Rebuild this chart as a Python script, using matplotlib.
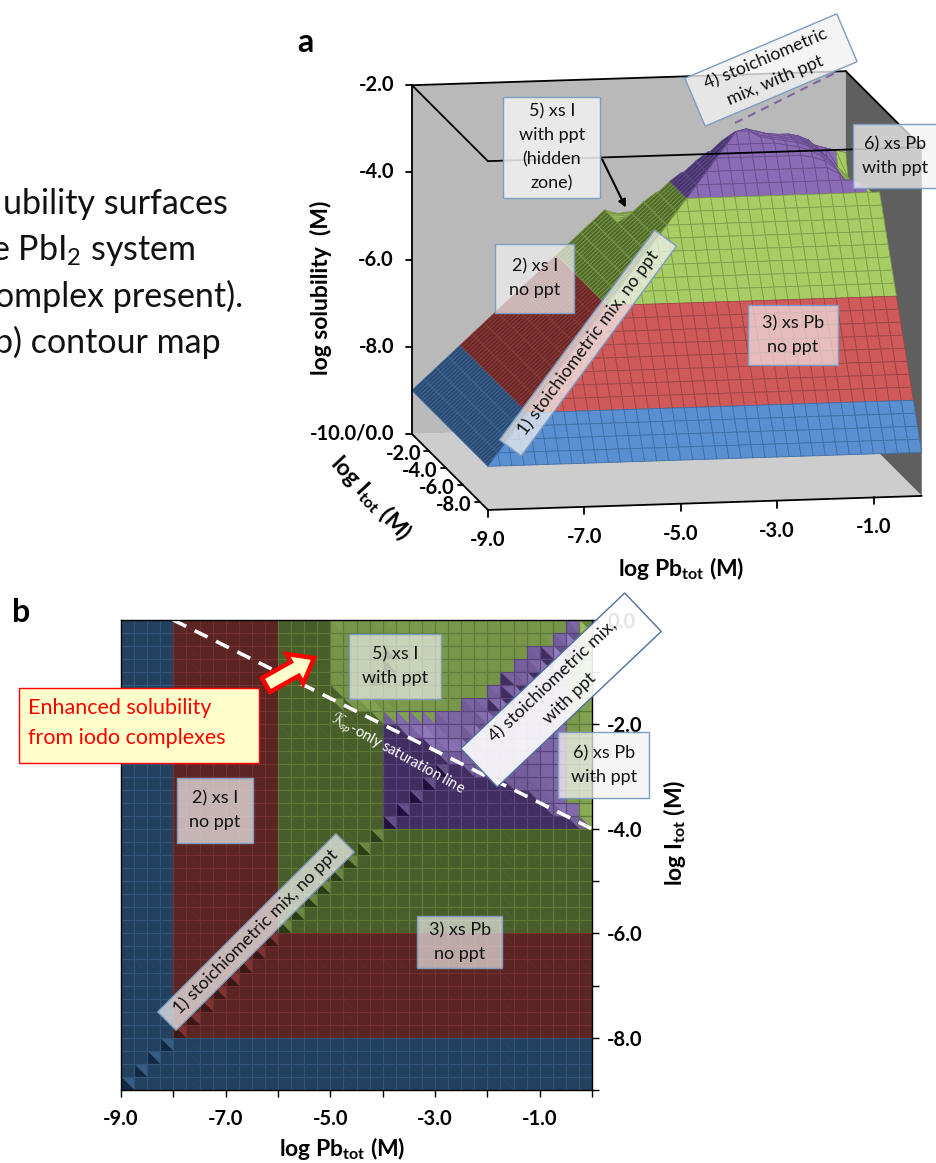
import math
import numpy as np
import matplotlib
matplotlib.use('Agg')
import matplotlib.pyplot as plt
from matplotlib.collections import PolyCollection
from matplotlib.patches import Polygon, FancyArrow
from matplotlib.colors import to_rgb

plt.rcParams['font.family'] = ['Lato', 'DejaVu Sans']
plt.rcParams['mathtext.fontset'] = 'custom'
plt.rcParams['mathtext.rm'] = 'Lato'
plt.rcParams['mathtext.it'] = 'Lato:italic'
plt.rcParams['mathtext.bf'] = 'Lato:bold'

# ---------- data: -100*log solubility ----------
L = [900, 875, 850, 825, 800, 775, 750, 725, 700, 675, 650, 625, 600, 575, 550, 525, 500]
ROWS_TOP = [
    L + [510, 507, 505, 503, 500, 500, 500, 498, 495, 488, 480, 473, 463, 450, 438, 428, 420, 408, 403, 387],
    L + [505, 503, 501, 495, 488, 488, 488, 485, 482, 475, 468, 460, 450, 438, 425, 415, 408, 395, 376, 440],
    L + [502, 501, 500, 490, 475, 475, 475, 472, 470, 462, 455, 448, 438, 425, 412, 402, 390, 365, 410, 440],
    L + [500, 499, 495, 485, 462, 462, 462, 460, 458, 450, 442, 435, 425, 412, 398, 385, 353, 400, 410, 440],
    L + [499, 495, 490, 475, 450, 450, 450, 448, 445, 438, 430, 422, 412, 400, 375, 342, 355, 400, 410, 440],
    L + [495, 490, 490, 460, 438, 438, 438, 435, 432, 425, 418, 410, 400, 370, 331, 330, 355, 400, 410, 440],
    L + [485, 470, 470, 440, 425, 425, 425, 422, 420, 412, 405, 395, 370, 320, 315, 330, 355, 400, 410, 440],
    L + [475, 450, 430, 420, 412, 412, 412, 410, 408, 400, 380, 360, 308, 305, 315, 330, 355, 400, 410, 440],
    L + [475, 450, 425, 400, 380, 385, 385, 390, 375, 366, 345, 297, 300, 305, 315, 330, 355, 400, 410, 440],
    L + [475, 450, 425, 400, 375, 350, 330, 345, 340, 330, 286, 295, 300, 305, 315, 330, 355, 400, 410, 440],
    L + [475, 450, 425, 400, 375, 350, 325, 300, 282, 275, 290, 295, 300, 305, 315, 330, 355, 400, 410, 440],
    L + [475, 450, 425, 400, 375, 350, 325, 300, 275, 275, 290, 295, 300, 305, 315, 330, 355, 400, 410, 440],
    L + [475, 450, 425, 400, 375, 350, 325, 300, 300, 300, 300, 300, 305, 310, 320, 335, 358, 400, 410, 440],
    L + [475, 450, 425, 400, 375, 350, 325, 325, 325, 325, 325, 325, 325, 325, 330, 340, 360, 400, 410, 440],
    L + [475, 450, 425, 400, 375, 350, 350, 350, 350, 350, 350, 350, 350, 350, 350, 350, 365, 395, 410, 440],
    L + [475, 450, 425, 400, 375, 375, 375, 375, 375, 375, 375, 375, 375, 375, 375, 375, 375, 375, 390, 420],
    L + [475, 450, 425, 400] + [400] * 16,
    L + [475, 450] + [425] * 18,
    L + [475] + [450] * 19,
    L + [475] * 20,
    L + [500] * 20,
]
PLATEAU = [525, 550, 575, 600, 625, 650, 675, 700, 725, 750, 775, 800, 825, 850, 875, 900]
Z_TABLE = np.array(ROWS_TOP + [L[:16 - n] + [v] * (21 + n) for n, v in enumerate(PLATEAU)], float)
Z = -Z_TABLE / 100.0
PB_GRID = np.linspace(-9, 0, 37)
I_GRID = np.linspace(0, -9, 37)

SOL_TICKS = [-2.0, -4.0, -6.0, -8.0, -10.0]
DEPTH_TICKS = [-2.0, -4.0, -6.0, -8.0]
PB_TICKS_A = [-9.0, -7.0, -5.0, -3.0, -1.0]
PB_TICKS_B = [-9.0, -7.0, -5.0, -3.0, -1.0]
I_TICKS_B = [0.0, -2.0, -4.0, -6.0, -8.0]
SAT_PB = [-8.0, 0.0]
SAT_I = [0.0, -4.0]

# ---------- colours ----------
A_BRIGHT = ['#5A8FD2', '#D0595A', '#A9CD65', '#8B6BB5']
A_DARK = ['#2A4A72', '#6B2826', '#4F6A28', '#46346B']
A_EDGE_B = ['#3F6FA8', '#9E4545', '#7E9E4A', '#6A5090']
A_EDGE_D = ['#3C6494', '#8A3A38', '#7A9648', '#5F4A8E']
B_DARK = ['#24405F', '#5A2523', '#485E2A', '#3F2E5F']
B_BRIGHT = ['#5B8FC8', '#C05050', '#A9CF6B', '#A98FD8']


def band(z):
    return 0 if z < -8 else 1 if z < -6 else 2 if z < -4 else 3


def lerp(c1, c2, t):
    a, b = np.array(to_rgb(c1)), np.array(to_rgb(c2))
    return tuple(np.clip(a + (b - a) * t, 0, 1))


W, H = 937, 1163
fig = plt.figure(figsize=(W / 100, H / 100), dpi=100, facecolor='white')

# ---------- panel b : real axes ----------
bx = fig.add_axes([121 / W, 1 - 1090 / H, 471 / W, 470 / H], zorder=1)
tris, cols = [], []
quads, qedges = [], []
n_i, n_p = Z.shape
for r in range(n_i - 1):
    for c in range(n_p - 1):
        zA, zB, zC, zD = Z[r, c], Z[r, c + 1], Z[r + 1, c], Z[r + 1, c + 1]
        pA = (PB_GRID[c], I_GRID[r]); pB = (PB_GRID[c + 1], I_GRID[r])
        pC = (PB_GRID[c], I_GRID[r + 1]); pD = (PB_GRID[c + 1], I_GRID[r + 1])
        on_diag = abs(PB_GRID[c] - I_GRID[r + 1]) < .3
        for pts, zs, gx, gy in (((pA, pB, pD), (zA, zB, zD), (zB - zA) / .25, (zB - zD) / .25),
                                ((pA, pC, pD), (zA, zC, zD), (zD - zC) / .25, (zA - zC) / .25)):
            g = gx + gy
            if abs(g) < 1e-6:
                t = -.3 if on_diag else .48
            elif .6 <= g <= 1.5:
                t = 0.0
            elif g > 1.5:
                t = .35
            else:
                t = .48 + min(.45, max(0, -g * .1))
            k = band(np.mean(zs))
            tris.append(pts)
            cols.append(lerp(B_DARK[k], B_BRIGHT[k], t))
        k = band(np.mean([zA, zB, zC, zD]))
        quads.append((pA, pB, pD, pC))
        qedges.append(lerp(B_DARK[k], B_BRIGHT[k], .25))
bx.add_collection(PolyCollection(tris, facecolors=cols, edgecolors=cols, linewidths=.5))
bx.add_collection(PolyCollection(quads, facecolors='none', edgecolors=qedges, linewidths=.8))
bx.plot(SAT_PB, SAT_I, color='white', lw=2.6, dashes=(4, 2.6), clip_on=False)
bx.set_xlim(-9, 0)
bx.set_ylim(-9, 0)
bx.yaxis.tick_right()
bx.set_xticks(np.arange(-9, 1, 1.0), minor=True)
bx.set_yticks(np.arange(-9, 1, 1.0), minor=True)
bx.set_xticks(PB_TICKS_B, [f'{v:.1f}' for v in PB_TICKS_B], fontweight='bold', fontsize=14.5)
bx.set_yticks(I_TICKS_B, [f'{v:.1f}' for v in I_TICKS_B], fontweight='bold', fontsize=14.5)
bx.tick_params(which='both', length=5, width=1, direction='out')
bx.tick_params(axis='x', which='both', pad=9)
bx.tick_params(axis='y', which='both', pad=6)
for s in bx.spines.values():
    s.set_linewidth(1)

# ---------- overlay in picture coordinates ----------
ov = fig.add_axes([0, 0, 1, 1], zorder=2)
ov.set_xlim(0, W)
ov.set_ylim(H, 0)
ov.axis('off')
ov.patch.set_alpha(0)


def project(pb, i, z):
    return (412 + (pb + 9) * 48.2 - i * 8.44,
            434 - (pb + 9) * 1.56 - i * 8.44 - (z + 10) * 43.6)


BLACK = dict(color='black', lw=1.3, solid_capstyle='round')
# walls and floor
ov.add_patch(Polygon([project(-9, 0, -2), project(0, 0, -2), project(0, 0, -10), project(-9, 0, -10)], fc='#B9B9B9', ec='none', zorder=1))
ov.add_patch(Polygon([project(0, 0, -2), project(0, -9, -2), project(0, -9, -10), project(0, 0, -10)], fc='#5F5F5F', ec='none', zorder=1))
ov.add_patch(Polygon([project(-9, 0, -10), project(0, 0, -10), project(0, -9, -10), project(-9, -9, -10)], fc='#CDCDCD', ec='none', zorder=1))


def shade(gx, gy, zs):
    k = band(np.mean(zs))
    if gx >= .5:
        return A_DARK[k], A_EDGE_D[k]
    if gy < -.1:
        return lerp(A_DARK[k], A_BRIGHT[k], .4), A_EDGE_D[k]
    return A_BRIGHT[k], A_EDGE_B[k]


# surface, back to front; a cell that holds a crease is drawn as two facets
polys, fcs, ecs = [], [], []
for r in range(n_i - 1):
    for c in range(n_p - 1):
        zA, zB, zC, zD = Z[r, c], Z[r, c + 1], Z[r + 1, c], Z[r + 1, c + 1]
        A = project(PB_GRID[c], I_GRID[r], zA)
        B = project(PB_GRID[c + 1], I_GRID[r], zB)
        C = project(PB_GRID[c], I_GRID[r + 1], zC)
        D = project(PB_GRID[c + 1], I_GRID[r + 1], zD)
        s1 = shade((zB - zA) / .25, (zA - zC) / .25, (zA, zB, zC))
        s2 = shade((zD - zC) / .25, (zB - zD) / .25, (zC, zB, zD))
        if s1 == s2:
            polys.append([A, B, D, C]); fcs.append(s1[0]); ecs.append(s1[1])
        else:
            polys.append([A, B, C]); fcs.append(s1[0]); ecs.append(s1[1])
            polys.append([C, B, D]); fcs.append(s2[0]); ecs.append(s2[1])
ov.add_collection(PolyCollection(polys, facecolors=fcs, edgecolors=ecs, linewidths=.6, zorder=2))

# frame lines
for a, b in ((project(-9, 0, -2), project(0, 0, -2)), (project(-9, 0, -2), project(-9, -9, -2)),
             (project(-9, -9, -2), project(0, -9, -2)), (project(0, 0, -2), project(0, -9, -2)),
             (project(-9, 0, -2), project(-9, 0, -10)), (project(-9, 0, -10), project(-9, -9, -10)),
             (project(-9, -9, -10), project(0, -9, -10))):
    ov.plot([a[0], b[0]], [a[1], b[1]], zorder=3, **BLACK)

TICK_FONT = dict(fontsize=14.5, fontweight='bold', ha='center', va='center', zorder=6)
for v in SOL_TICKS:
    x, y = project(-9, 0, v)
    ov.plot([x - 6, x], [y, y], zorder=3, **BLACK)
    ov.text(x - 18, y, '-10.0/0.0' if v == -10 else f'{v:.1f}', **{**TICK_FONT, 'ha': 'right'})
for v in DEPTH_TICKS:
    x, y = project(-9, v, -10)
    ov.plot([x - 5, x], [y, y], zorder=3, **BLACK)
    ov.text(x - 8, y + 3, f'{v:.1f}', **{**TICK_FONT, 'ha': 'right'})
for v in PB_TICKS_A:
    x, y = project(v, -9, -10)
    ov.plot([x, x], [y, y + 7], zorder=3, **BLACK)
    ov.text(x, y + 30, f'{v:.1f}', **TICK_FONT)

LAB = dict(fontsize=16.5, fontweight='bold', ha='center', va='center', rotation_mode='anchor', zorder=6)
PB_LAB = r'log Pb$_{\mathbf{tot}}$ (M)'
I_LAB = r'log I$_{\mathbf{tot}}$ (M)'
ov.text(681, 569, PB_LAB, **LAB)
ov.text(321, 288, 'log solubility  (M)', rotation=90, **LAB)
ov.text(371, 498, I_LAB, rotation=-47, **LAB)
ov.text(342, 1148, PB_LAB, **LAB)
ov.text(675, 833, I_LAB, rotation=90, **LAB)
ov.text(305, 43, 'a', fontsize=23, fontweight='bold', ha='center', va='center')
ov.text(21, 612, 'b', fontsize=23, fontweight='bold', ha='center', va='center')

# caption, cut by the left edge in the same way as the reference
for y, xr, s in ((204, 228, 'ubility surfaces'), (250, 195, r'e PbI$_2$ system'),
                 (296, 243, 'omplex present).'), (342, 221, 'b) contour map')):
    ov.text(xr, y, s, fontsize=24.5, ha='right', va='center', color='#111111')


def box(cx, cy, w, h, text, angle=0, fc='#F2F2F2', alpha=.8, fs=13, ec='#7F9BBF', color='#111111'):
    a = math.radians(angle)
    ux, uy = math.cos(a), -math.sin(a)
    vx, vy = math.sin(a), math.cos(a)
    pts = [(cx + sx * w / 2 * ux + sy * h / 2 * vx, cy + sx * w / 2 * uy + sy * h / 2 * vy)
           for sx, sy in ((-1, -1), (1, -1), (1, 1), (-1, 1))]
    ov.add_patch(Polygon(pts, fc=to_rgb(fc) + (alpha,), ec=ec, lw=1, zorder=4))
    ov.text(cx, cy, text, rotation=angle, rotation_mode='anchor', ha='center', va='center',
            fontsize=fs, color=color, linespacing=1.6, zorder=5)


# panel a labels
box(552, 147, 97, 101, '5) xs I\nwith ppt\n(hidden\nzone)', alpha=.85)
box(895, 156, 84, 64, '6) xs Pb\nwith ppt', alpha=.75)
box(535, 278, 79, 69, '2) xs I\nno ppt', alpha=.7)
box(793, 335, 90, 60, '3) xs Pb\nno ppt', alpha=.65)
box(771, 70, 165, 52, '4) stoichiometric\nmix, with ppt', angle=23, alpha=.8)
box(588, 343, 261, 27, '1) stoichiometric mix, no ppt', angle=53.5, alpha=.72)
ov.plot([735, 837], [123, 72], color='#8064A2', lw=1.5, dashes=(4, 3), zorder=3)
ov.annotate('', xy=(627, 210), xytext=(601, 157), zorder=6,
            arrowprops=dict(arrowstyle='-|>', color='black', lw=1.5, mutation_scale=11))

# panel b labels
box(395, 666, 92, 65, '5) xs I\nwith ppt', alpha=.65)
box(215, 810, 76, 65, '2) xs I\nno ppt', alpha=.7)
box(460, 942, 85, 52, '3) xs Pb\nno ppt', alpha=.65)
box(604, 765, 91, 66, '6) xs Pb\nwith ppt', alpha=.75)
box(561, 690, 226, 53, '4) stoichiometric mix,\nwith ppt', angle=43.5, fc='#FFFFFF', alpha=.9, ec='#4F6F9F')
box(256, 932, 252, 26, '1) stoichiometric mix, no ppt', angle=45, alpha=.72)
box(139, 725.5, 240, 75, '', fc='#FFFFCC', alpha=1, ec='#FF0000')
ov.text(28, 723, 'Enhanced solubility\nfrom iodo complexes', color='#FF0000', fontsize=15.5,
        ha='left', va='center', linespacing=1.6, zorder=5)
ov.add_patch(FancyArrow(266, 685, 48, -27, width=16, head_width=34, head_length=22, length_includes_head=True,
                        fc='#FFFFCC', ec='#FF0000', lw=3.2, zorder=6))
ov.text(398, 755, r'$\mathcal{K}_{sp}$-only saturation line', color='white', fontsize=10.5, rotation=-29,
        rotation_mode='anchor', ha='center', va='center', zorder=3)

fig.savefig('out.png', dpi=100)
